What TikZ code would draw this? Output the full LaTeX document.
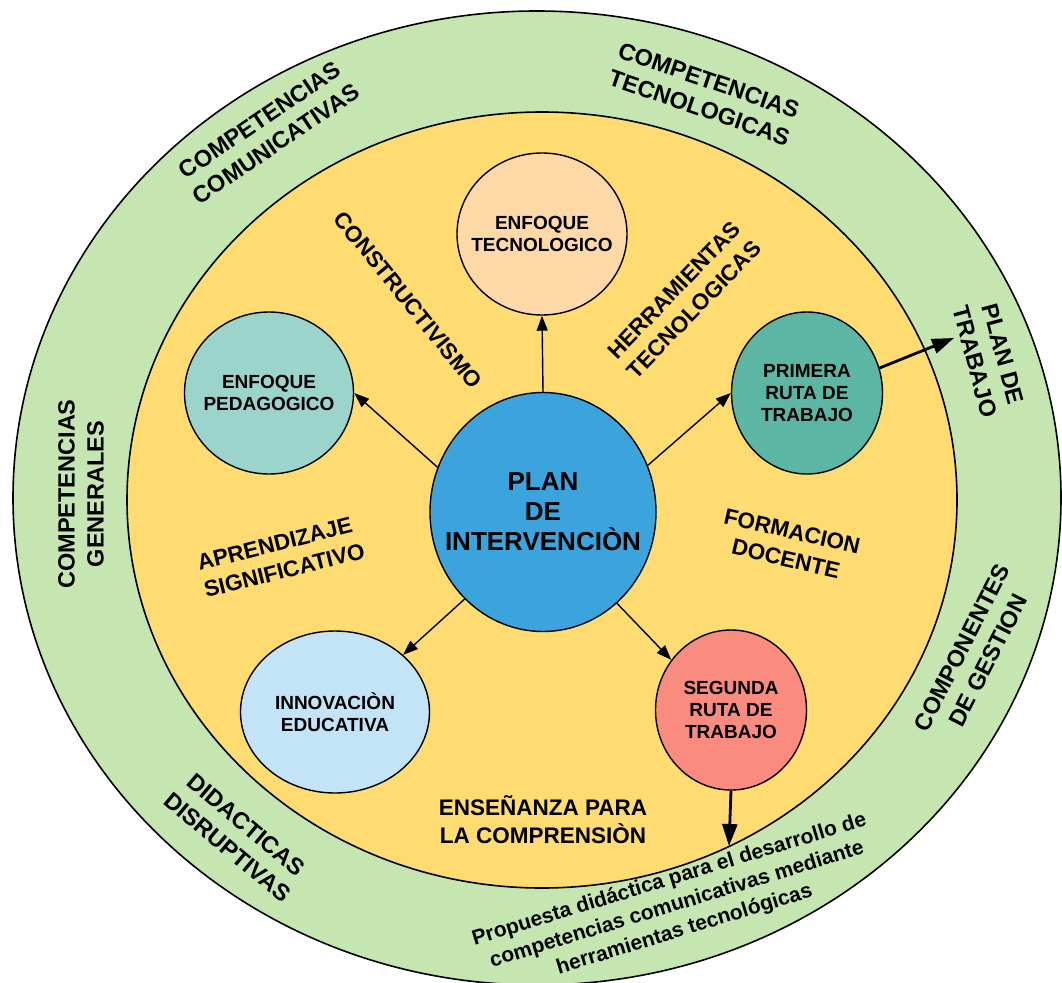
\documentclass[tikz,border=0pt]{standalone}
\usepackage{fontspec}
\setmainfont{Liberation Sans}
\usepackage{xcolor}
\usetikzlibrary{shapes.geometric, arrows.meta, positioning}
\definecolor{ringGreen}{HTML}{C5E6B0}
\definecolor{coreYellow}{HTML}{FEDC72}
\definecolor{planBlue}{HTML}{3CA4DC}
\definecolor{tecnoPeach}{HTML}{FDD9A8}
\definecolor{pedaMint}{HTML}{9BD4CB}
\definecolor{rutaTeal}{HTML}{5BB6A4}
\definecolor{innoSky}{HTML}{C3E3F6}
\definecolor{rutaSalmon}{HTML}{FA8C7F}
\tikzset{
    ring_green/.style={
        fill=ringGreen, draw=black, line width=1.6pt
    },
    ring_yellow/.style={
        fill=coreYellow, draw=black, line width=1.6pt
    },
    bubble/.style={
        ellipse, draw=black, line width=1.4pt, inner sep=0pt
    },
    bubble_txt/.style={
        align=center, font=\bfseries\fontsize{19}{22}\selectfont
    },
    plan_txt/.style={
        align=center, font=\bfseries\fontsize{26}{30}\selectfont
    },
    bubble_blue/.style={bubble, fill=planBlue},
    bubble_peach/.style={bubble, fill=tecnoPeach},
    bubble_mint/.style={bubble, fill=pedaMint},
    bubble_teal/.style={bubble, fill=rutaTeal},
    bubble_sky/.style={bubble, fill=innoSky},
    bubble_salmon/.style={bubble, fill=rutaSalmon},
    ring_lbl/.style={
        align=center, font=\bfseries\fontsize{23.5}{29}\selectfont
    },
    zone_lbl/.style={
        align=center, font=\bfseries\fontsize{22.5}{28}\selectfont
    },
    prop_lbl/.style={
        align=center, font=\bfseries\fontsize{21}{26}\selectfont
    },
    spoke_arrow/.style={
        -{Triangle[length=15pt, width=11pt]}, line width=1.4pt, draw=black
    },
    exit_arrow/.style={
        -{Triangle[length=22pt, width=15pt]}, line width=2.8pt, draw=black
    }
}

\begin{document}
\begin{tikzpicture}[x=1pt, y=-1pt]

    \useasboundingbox (0,0) rectangle (1062,982);

    % Rings
    \draw[ring_green] (537,498) ellipse [x radius=524pt, y radius=487pt];
    \draw[ring_yellow] (542,500) ellipse [x radius=415pt, y radius=388pt];

    % Centre and satellites
    \node[bubble_blue, minimum width=226pt, minimum height=239pt,
          label={[plan_txt]center:PLAN\\DE\\INTERVENCIÒN}] (plan) at (543,512) {};
    \node[bubble_peach, minimum width=170pt, minimum height=162pt,
          label={[bubble_txt]center:ENFOQUE\\TECNOLOGICO}] (tecno) at (542,234) {};
    \node[bubble_mint, minimum width=169pt, minimum height=162pt,
          label={[bubble_txt]center:ENFOQUE\\PEDAGOGICO}] (pedag) at (269,393) {};
    \node[bubble_teal, minimum width=151pt, minimum height=162pt,
          label={[bubble_txt]center:PRIMERA\\RUTA DE\\TRABAJO}] (ruta1) at (807,393) {};
    \node[bubble_sky, minimum width=189pt, minimum height=162pt,
          label={[bubble_txt]center:INNOVACIÒN\\EDUCATIVA}] (innov) at (335,712) {};
    \node[bubble_salmon, minimum width=151pt, minimum height=160pt,
          label={[bubble_txt]center:SEGUNDA\\RUTA DE\\TRABAJO}] (ruta2) at (731,710) {};

    % Labels in the yellow zone
    \node[zone_lbl, rotate=-51] (constr) at (408,300) {CONSTRUCTIVISMO};
    \node[zone_lbl, rotate=46] (herram) at (684,300) {HERRAMIENTAS\\TECNOLOGICAS};
    \node[zone_lbl, rotate=14, align=left] (aprend) at (281,557) {APRENDIZAJE\\SIGNIFICATIVO};
    \node[zone_lbl, rotate=-13] (formac) at (789,545) {FORMACION\\DOCENTE};
    \node[zone_lbl] (ensen) at (543,820) {ENSEÑANZA PARA\\LA COMPRENSIÒN};

    % Labels in the green ring
    \node[ring_lbl, rotate=34] (comunic) at (268,132) {COMPETENCIAS\\COMUNICATIVAS};
    \node[ring_lbl, rotate=-19] (tecnol) at (704,94) {COMPETENCIAS\\TECNOLOGICAS};
    \node[ring_lbl, rotate=-75] (trabajo) at (989,358) {PLAN DE\\TRABAJO};
    \node[ring_lbl, rotate=90] (generales) at (81,494) {COMPETENCIAS\\GENERALES};
    \node[ring_lbl, rotate=63] (gestion) at (975,654) {COMPONENTES\\DE GESTION};
    \node[ring_lbl, rotate=-40] (didact) at (237,836) {DIDACTICAS\\DISRUPTIVAS};
    \node[prop_lbl, rotate=17] (propuesta) at (677,905) {Propuesta didáctica para el desarrollo de\\competencias comunicativas mediante\\herramientas tecnológicas};

    % Spokes from the centre
    \draw[spoke_arrow] (plan.north) -- (tecno.south);
    \draw[spoke_arrow] (plan.157) -- (pedag.east);
    \draw[spoke_arrow] (plan.24) -- (ruta1.west);
    \draw[spoke_arrow] (plan.228) -- (innov.40);
    \draw[spoke_arrow] (plan.-51) -- (ruta2.140);

    % Exits to the outer ring
    \coordinate (trabajo_tip) at (954,338);
    \coordinate (propuesta_tip) at (729,846);
    \draw[exit_arrow] (ruta1.19) -- (trabajo_tip);
    \draw[exit_arrow] (ruta2.south) -- (propuesta_tip);

\end{tikzpicture}
\end{document}
